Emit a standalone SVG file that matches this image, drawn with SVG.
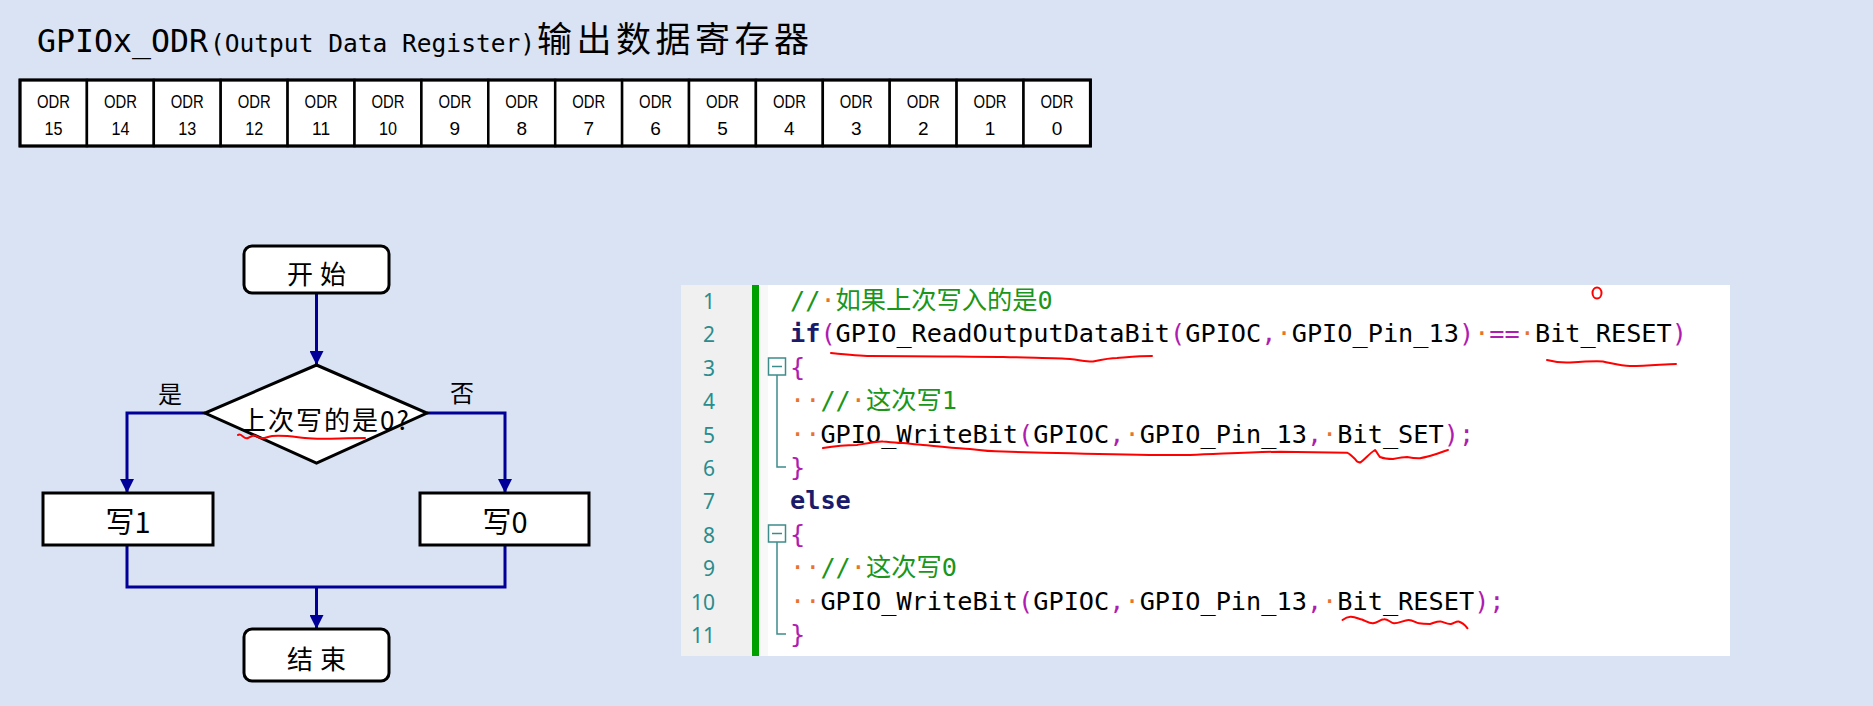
<svg xmlns="http://www.w3.org/2000/svg" width="1873" height="706" viewBox="0 0 1873 706">
<style>
.bg{fill:#dae3f3}
.cell{fill:#ffffff;stroke:#000;stroke-width:2.5}
.reg{font-family:'Liberation Sans','Noto Sans',sans-serif;font-size:19px;fill:#000;text-anchor:middle}
.title{font-family:'DejaVu Sans Mono','Noto Sans CJK SC',monospace;fill:#000}
.cjk{font-family:'Noto Sans CJK SC',sans-serif;fill:#000}
.box{fill:#fff;stroke:#000;stroke-width:3}
.lbl{font-family:'Noto Sans CJK SC',sans-serif;fill:#000;text-anchor:middle}
.conn{fill:none;stroke:#000099;stroke-width:3}
.red{fill:none;stroke:#ff0000;stroke-width:2;stroke-linecap:round;stroke-linejoin:round}
.code{font-family:'DejaVu Sans Mono','Noto Sans CJK SC',monospace;font-size:25.25px;fill:#000}
.ln{font-family:'Noto Sans','DejaVu Sans',sans-serif;font-size:21px;fill:#2a8c8c;text-anchor:end}
.k{fill:#1b1b6b;font-weight:bold}
.p{fill:#b01cb0}
.c{fill:#1a961a}
.w{fill:#e8742c}
.fold{fill:#fff;stroke:#3c8c8c;stroke-width:1.5}
.foldl{fill:none;stroke:#3c8c8c;stroke-width:1.5}
</style>
<defs>
<marker id="arr" markerUnits="userSpaceOnUse" markerWidth="14" markerHeight="14" viewBox="0 0 14 14" refX="14" refY="7" orient="auto">
<path d="M0,0 L14,7 L0,14 Z" fill="#000099"/>
</marker>
</defs>
<rect class="bg" x="0" y="0" width="1873" height="706"/>

<g id="title">
<text class="title" x="37" y="52" font-size="32" textLength="171" lengthAdjust="spacingAndGlyphs">GPIOx_ODR</text>
<text class="title" x="210" y="52" font-size="24.5" textLength="325" lengthAdjust="spacingAndGlyphs">(Output Data Register)</text>
<text class="cjk" x="537" y="52" font-size="35" textLength="272" lengthAdjust="spacing">输出数据寄存器</text>
</g>

<g id="register">
<rect class="cell" x="20" y="80" width="66.9" height="66"/>
<rect class="cell" x="86.9" y="80" width="66.9" height="66"/>
<rect class="cell" x="153.8" y="80" width="66.9" height="66"/>
<rect class="cell" x="220.7" y="80" width="66.9" height="66"/>
<rect class="cell" x="287.6" y="80" width="66.9" height="66"/>
<rect class="cell" x="354.5" y="80" width="66.9" height="66"/>
<rect class="cell" x="421.4" y="80" width="66.9" height="66"/>
<rect class="cell" x="488.3" y="80" width="66.9" height="66"/>
<rect class="cell" x="555.2" y="80" width="66.9" height="66"/>
<rect class="cell" x="622.1" y="80" width="66.9" height="66"/>
<rect class="cell" x="689" y="80" width="66.9" height="66"/>
<rect class="cell" x="755.9" y="80" width="66.9" height="66"/>
<rect class="cell" x="822.8" y="80" width="66.9" height="66"/>
<rect class="cell" x="889.7" y="80" width="66.9" height="66"/>
<rect class="cell" x="956.6" y="80" width="66.9" height="66"/>
<rect class="cell" x="1023.5" y="80" width="66.9" height="66"/>
<rect x="20" y="80" width="1070.4" height="66" fill="none" stroke="#000" stroke-width="3"/>
<g class="reg">
<text x="53.5" y="108" textLength="33" lengthAdjust="spacingAndGlyphs">ODR</text><text x="53.5" y="135" textLength="18" lengthAdjust="spacingAndGlyphs">15</text>
<text x="120.4" y="108" textLength="33" lengthAdjust="spacingAndGlyphs">ODR</text><text x="120.4" y="135" textLength="18" lengthAdjust="spacingAndGlyphs">14</text>
<text x="187.3" y="108" textLength="33" lengthAdjust="spacingAndGlyphs">ODR</text><text x="187.3" y="135" textLength="18" lengthAdjust="spacingAndGlyphs">13</text>
<text x="254.2" y="108" textLength="33" lengthAdjust="spacingAndGlyphs">ODR</text><text x="254.2" y="135" textLength="18" lengthAdjust="spacingAndGlyphs">12</text>
<text x="321.1" y="108" textLength="33" lengthAdjust="spacingAndGlyphs">ODR</text><text x="321.1" y="135" textLength="18" lengthAdjust="spacingAndGlyphs">11</text>
<text x="388" y="108" textLength="33" lengthAdjust="spacingAndGlyphs">ODR</text><text x="388" y="135" textLength="18" lengthAdjust="spacingAndGlyphs">10</text>
<text x="454.9" y="108" textLength="33" lengthAdjust="spacingAndGlyphs">ODR</text><text x="454.9" y="135">9</text>
<text x="521.8" y="108" textLength="33" lengthAdjust="spacingAndGlyphs">ODR</text><text x="521.8" y="135">8</text>
<text x="588.7" y="108" textLength="33" lengthAdjust="spacingAndGlyphs">ODR</text><text x="588.7" y="135">7</text>
<text x="655.6" y="108" textLength="33" lengthAdjust="spacingAndGlyphs">ODR</text><text x="655.6" y="135">6</text>
<text x="722.5" y="108" textLength="33" lengthAdjust="spacingAndGlyphs">ODR</text><text x="722.5" y="135">5</text>
<text x="789.4" y="108" textLength="33" lengthAdjust="spacingAndGlyphs">ODR</text><text x="789.4" y="135">4</text>
<text x="856.3" y="108" textLength="33" lengthAdjust="spacingAndGlyphs">ODR</text><text x="856.3" y="135">3</text>
<text x="923.2" y="108" textLength="33" lengthAdjust="spacingAndGlyphs">ODR</text><text x="923.2" y="135">2</text>
<text x="990.1" y="108" textLength="33" lengthAdjust="spacingAndGlyphs">ODR</text><text x="990.1" y="135">1</text>
<text x="1057" y="108" textLength="33" lengthAdjust="spacingAndGlyphs">ODR</text><text x="1057" y="135">0</text>
</g>
</g>

<g id="connectors">
<path class="conn" d="M316.5,293 V365" marker-end="url(#arr)"/>
<path class="conn" d="M205,413 H127 V493" marker-end="url(#arr)"/>
<path class="conn" d="M427,413 H505 V493" marker-end="url(#arr)"/>
<path class="conn" d="M127,545 V587 H505 V545"/>
<path class="conn" d="M316.5,587 V629" marker-end="url(#arr)"/>
<text class="lbl" x="170" y="403" font-size="24">是</text>
<text class="lbl" x="462" y="402" font-size="24">否</text>
</g>

<g id="node-start">
<rect class="box" x="244" y="246" width="145" height="47" rx="8"/>
<text class="lbl" x="320" y="284" font-size="26" letter-spacing="7">开始</text>
</g>
<g id="node-decision">
<polygon class="box" points="316.5,365 427,413 316.5,463 205,413"/>
<text class="cjk" x="240" y="430" font-size="26" letter-spacing="2">上次写的是0?</text>
</g>
<g id="node-write1">
<rect class="box" x="43" y="493" width="170" height="52"/>
<text class="lbl" x="128" y="533" font-size="29">写1</text>
</g>
<g id="node-write0">
<rect class="box" x="420" y="493" width="169" height="52"/>
<text class="lbl" x="505" y="533" font-size="29">写0</text>
</g>
<g id="node-end">
<rect class="box" x="244" y="629" width="145" height="52" rx="8"/>
<text class="lbl" x="320" y="669" font-size="26" letter-spacing="7">结束</text>
</g>

<g id="code">
<rect x="681" y="285" width="1049" height="371" fill="#ffffff"/>
<rect x="681" y="285" width="71" height="371" fill="#f0f0f0"/>
<rect x="752" y="285" width="7" height="371" fill="#00a000"/>
<rect x="759" y="285" width="9" height="371" fill="#f8f8f8"/>
<g class="ln">
<text x="715" y="309">1</text>
<text x="715" y="342.4">2</text>
<text x="715" y="375.8">3</text>
<text x="715" y="409.2">4</text>
<text x="715" y="442.6">5</text>
<text x="715" y="476">6</text>
<text x="715" y="509.4">7</text>
<text x="715" y="542.8">8</text>
<text x="715" y="576.2">9</text>
<text x="715" y="609.6">10</text>
<text x="715" y="643">11</text>
</g>
<rect class="fold" x="768.5" y="358" width="17" height="17"/>
<path class="foldl" d="M772,366.5 H782 M777,375 V467 H786"/>
<rect class="fold" x="768.5" y="525" width="17" height="17"/>
<path class="foldl" d="M772,533.5 H782 M777,542 V634 H786"/>
<g class="code">
<text x="790" y="309"><tspan class="c">//</tspan><tspan class="w">·</tspan><tspan class="c">如果上次写入的是0</tspan></text>
<text x="790" y="342.4"><tspan class="k">if</tspan><tspan class="p">(</tspan><tspan>GPIO_ReadOutputDataBit</tspan><tspan class="p">(</tspan><tspan>GPIOC</tspan><tspan class="p">,</tspan><tspan class="w">·</tspan><tspan>GPIO_Pin_13</tspan><tspan class="p">)</tspan><tspan class="w">·</tspan><tspan class="p">==</tspan><tspan class="w">·</tspan><tspan>Bit_RESET</tspan><tspan class="p">)</tspan></text>
<text x="790" y="375.8" class="p">{</text>
<text x="790" y="409.2"><tspan class="w">··</tspan><tspan class="c">//</tspan><tspan class="w">·</tspan><tspan class="c">这次写1</tspan></text>
<text x="790" y="442.6"><tspan class="w">··</tspan><tspan>GPIO_WriteBit</tspan><tspan class="p">(</tspan><tspan>GPIOC</tspan><tspan class="p">,</tspan><tspan class="w">·</tspan><tspan>GPIO_Pin_13</tspan><tspan class="p">,</tspan><tspan class="w">·</tspan><tspan>Bit_SET</tspan><tspan class="p">);</tspan></text>
<text x="790" y="476" class="p">}</text>
<text x="790" y="509.4" class="k">else</text>
<text x="790" y="542.8" class="p">{</text>
<text x="790" y="576.2"><tspan class="w">··</tspan><tspan class="c">//</tspan><tspan class="w">·</tspan><tspan class="c">这次写0</tspan></text>
<text x="790" y="609.6"><tspan class="w">··</tspan><tspan>GPIO_WriteBit</tspan><tspan class="p">(</tspan><tspan>GPIOC</tspan><tspan class="p">,</tspan><tspan class="w">·</tspan><tspan>GPIO_Pin_13</tspan><tspan class="p">,</tspan><tspan class="w">·</tspan><tspan>Bit_RESET</tspan><tspan class="p">);</tspan></text>
<text x="790" y="643" class="p">}</text>
</g>
</g>

<g id="annotations">
<path class="red" d="M238,435 C241,432 244,440 248,438 C252,436 254,434 258,437 C262,440 266,437 272,436 C285,435 295,437 305,438 C320,440 340,438 365,438"/>
<path class="red" d="M831,353 C850,355 860,356 870,356 C930,356 970,357 1003,357 C1040,358 1060,358 1070,359 C1080,360 1088,362 1093,361.5 C1100,360 1110,358 1117,358 C1130,357 1140,356 1152,356"/>
<path class="red" d="M1547,360 C1555,362 1562,363 1570,362.5 C1585,361.5 1595,361 1603,361.5 C1615,364 1622,366 1630,366 C1650,366 1665,364 1676,364"/>
<path class="red" d="M823,448 C835,446 850,445 857,445 C868,443 878,441 883,441.5 C890,442 898,443 903,443 C912,444 918,445 923,445 C945,447 960,449 970,449 C985,451 995,451.5 1003,451.5 C1030,452.5 1050,453 1070,453.3 C1110,454.5 1150,455.5 1190,455 C1220,454 1250,452 1280,451.7 C1310,452 1330,452.5 1347,452.7 C1350,454 1352,456 1355,459 C1357,462 1359,463 1361,462 C1366,458 1370,453 1375,450 C1377,452 1378,455 1380,457 C1385,459 1390,459 1393,459 C1398,458 1403,457 1407,457 C1412,458 1416,458.5 1420,458.3 C1426,457 1430,456 1433,455 C1440,453 1444,451 1448,450"/>
<path class="red" d="M1342.5,620 C1345,618 1348,616.5 1351,616.7 C1356,617 1359,619 1362,619.5 C1366,621 1369,623.5 1373,623.3 C1377,623 1380,619.5 1384,619.3 C1388,619 1391,623 1394,623.3 C1399,623.5 1404,620 1408.6,620 C1413,620 1416,623 1419,623.3 C1423,624 1427,624 1430,624 C1434,623 1437,621 1440.7,621.5 C1444,622 1447,624.5 1451,624 C1454,623.5 1456,621 1458.6,621.5 C1462,622.5 1465,625 1467.5,628.3"/>
<ellipse class="red" cx="1597" cy="293" rx="4.5" ry="5.5" stroke-width="2.5"/>
</g>
</svg>
